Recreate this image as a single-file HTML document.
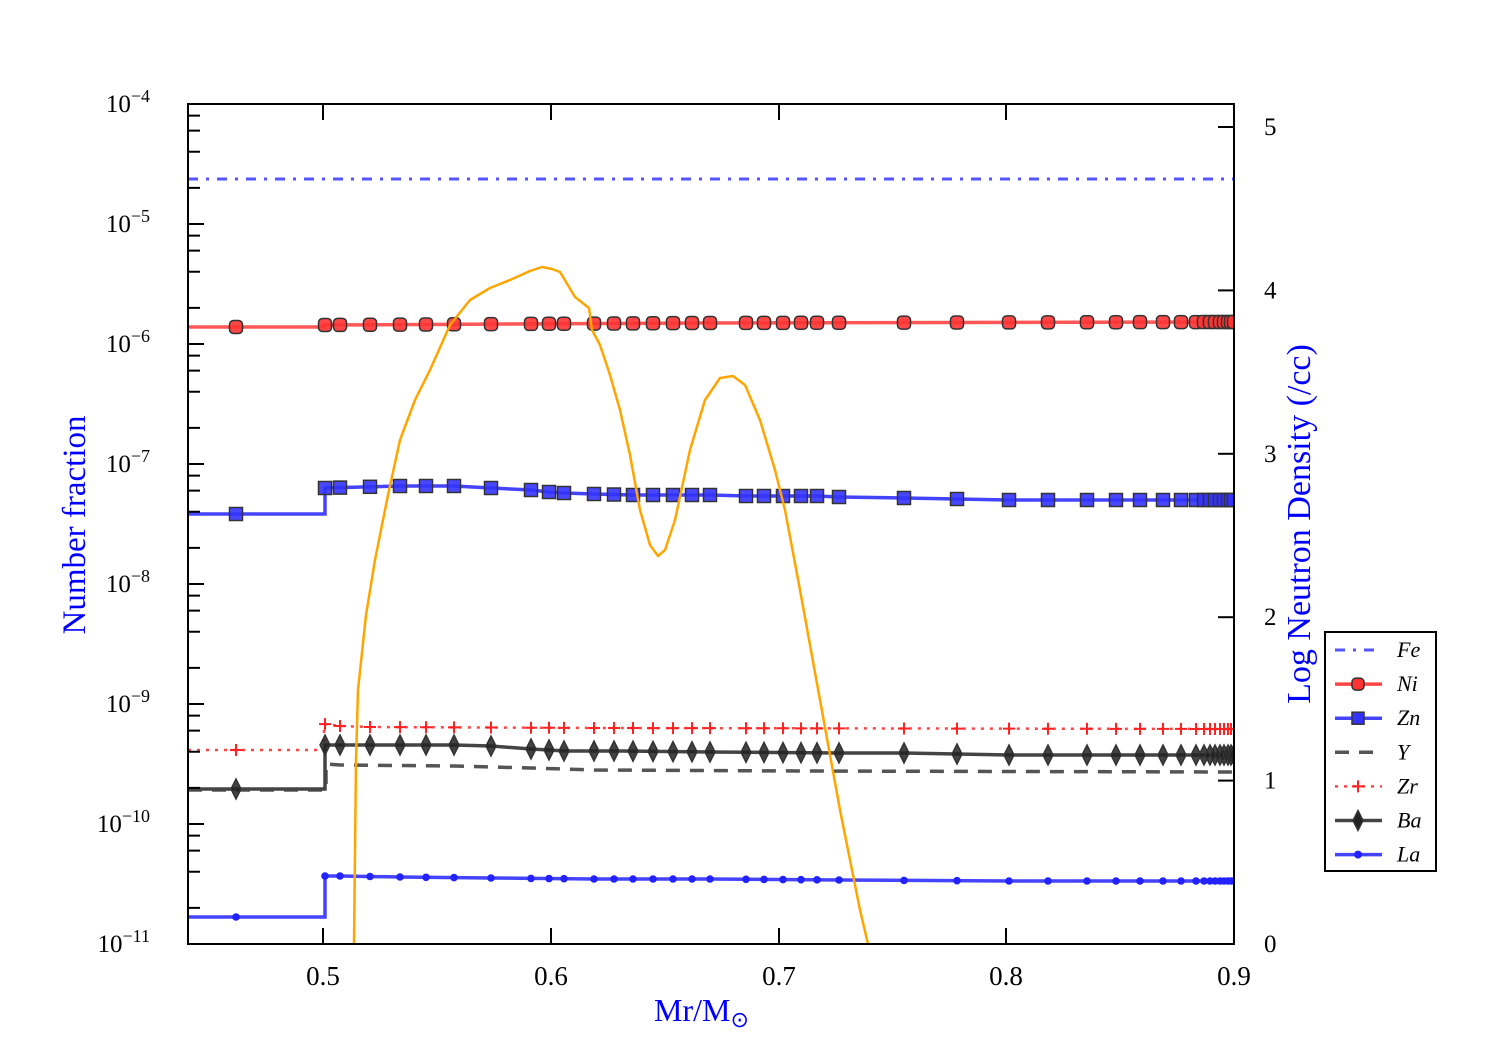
<!DOCTYPE html>
<html><head><meta charset="utf-8"><style>
html,body{margin:0;padding:0;background:#fff;}
svg{display:block;font-family:"Liberation Serif",serif;}
</style></head><body>
<svg id="s" width="1500" height="1050" xmlns="http://www.w3.org/2000/svg">
<rect width="1500" height="1050" fill="#fff"/>
<defs><clipPath id="c"><rect x="188" y="104" width="1046" height="840"/></clipPath></defs>
<g id="plot" clip-path="url(#c)"></g>
<g id="axes" stroke="#000" stroke-width="2" fill="none"></g>
<rect x="188" y="104" width="1046" height="840" fill="none" stroke="#000" stroke-width="2"/>
<g id="lab" font-size="25" fill="#000"></g>
<text x="85" y="525" font-size="33" fill="#0000ff" text-anchor="middle" transform="rotate(-90 85 525)">Number fraction</text>
<text x="1310" y="524" font-size="34" fill="#0000ff" text-anchor="middle" transform="rotate(-90 1310 524)">Log Neutron Density (/cc)</text>
<text x="654" y="1021" font-size="32" fill="#0000ff">Mr/M<tspan font-size="22" dy="6">⊙</tspan></text>
<g id="leg"></g>
</svg>
<script>
const NS="http://www.w3.org/2000/svg";
function el(p,t,a){const e=document.createElementNS(NS,t);for(const k in a)e.setAttribute(k,a[k]);p.appendChild(e);return e;}
const plot=document.getElementById('plot'),axes=document.getElementById('axes'),lab=document.getElementById('lab');
for(let d=0;d<=7;d++){const y=104+120*d;el(axes,'line',{x1:188,y1:y,x2:204,y2:y});
 const t=el(lab,'text',{x:150,y:y+8,'text-anchor':'end'});t.textContent='10';const ts=el(t,'tspan',{dy:-10,'font-size':18});ts.textContent='−'+(4+d);
 if(d<7)for(const m of [2,4,6,8]){const yy=y+120-120*Math.log10(m);el(axes,'line',{x1:188,y1:yy,x2:200,y2:yy});}}
for(let v=0;v<=5;v++){const y=944-163.4*v;el(axes,'line',{x1:1218,y1:y,x2:1234,y2:y});
 const t=el(lab,'text',{x:1264,y:y+8});t.textContent=v;}
[[0.5,323],[0.6,551],[0.7,779],[0.8,1006],[0.9,1234]].forEach(([v,x])=>{el(axes,'line',{x1:x,y1:944,x2:x,y2:928});el(axes,'line',{x1:x,y1:104,x2:x,y2:120});
 const t=el(lab,'text',{x:x,y:985,'text-anchor':'middle','font-size':27});t.textContent=v;});
const X=[236,325,340,370,400,426,454,491,531,549,564,594,614,633,653,673,692,710,746,764,783,801,817,839,904,957,1009,1048,1087,1116,1140,1163,1181,1196,1204,1210,1215,1220,1224,1228,1231,1234];
function interp(pts,x){for(let i=0;i<pts.length-1;i++){if(x<=pts[i+1][0])return pts[i][1]+(pts[i+1][1]-pts[i][1])*(x-pts[i][0])/(pts[i+1][0]-pts[i][0]);}return pts[pts.length-1][1];}
function series(left,stepx,pts,style,mk){
 let d=`M188 ${left} L${stepx} ${left} L${stepx} ${pts[0][1]}`;
 for(const p of pts)d+=` L${p[0]} ${p[1]}`;
 el(plot,'path',Object.assign({d:d,fill:'none'},style));
 if(mk){const ys=X.map(x=>x<stepx?left:interp(pts,x));X.forEach((x,i)=>mk(x,ys[i]));}
}
el(plot,'line',{x1:188,y1:179,x2:1234,y2:179,stroke:'#5555ff','stroke-width':3,'stroke-dasharray':'10,8,3,8'});
series(790,326,[[326,764],[340,765],[454,766],[491,767],[531,768],[594,770],[800,771],[1234,772]],{stroke:'#555','stroke-width':3.5,'stroke-dasharray':'14,10'});
series(750,324,[[324,724],[340,726],[370,727],[600,728],[1234,729]],{stroke:'#ff4444','stroke-width':2.5,'stroke-dasharray':'3,6'},(x,y)=>{el(plot,'path',{d:`M${x-6} ${y}H${x+6}M${x} ${y-6}V${y+6}`,stroke:'#ff2222','stroke-width':2});});
series(327,324,[[324,325],[700,323],[1234,322]],{stroke:'#ff4444','stroke-width':3.5,opacity:0.9},(x,y)=>{el(plot,'rect',{x:x-6.5,y:y-6.5,width:13,height:13,rx:4,fill:'#ff3333',stroke:'#333','stroke-width':1.5,'fill-opacity':0.9});});
series(514,325,[[325,488],[400,486],[454,486],[491,488],[531,490],[549,492],[564,493],[594,494],[633,495],[710,495],[746,496],[817,496],[839,497],[904,498],[957,499],[1009,500],[1234,500]],{stroke:'#4444ff','stroke-width':3.5},(x,y)=>{el(plot,'rect',{x:x-6.5,y:y-6.5,width:13,height:13,fill:'#3333ff',stroke:'#333','stroke-width':1.5,'fill-opacity':0.9});});
series(789,325,[[325,745],[454,745],[491,746],[531,749],[549,750],[564,751],[620,751],[710,752],[839,753],[904,753],[1009,755],[1234,755]],{stroke:'#444','stroke-width':3.5},(x,y)=>{el(plot,'path',{d:`M${x} ${y-10}L${x+5} ${y}L${x} ${y+10}L${x-5} ${y}Z`,fill:'#222',stroke:'#333','stroke-width':1.5,'fill-opacity':0.85});});
series(917,325,[[325,876],[340,876],[400,877],[491,878],[594,879],[710,879],[839,880],[1009,881],[1234,881]],{stroke:'#4444ff','stroke-width':3.5},(x,y)=>{el(plot,'circle',{cx:x,cy:y,r:3.8,fill:'#2222ff'});});
const O=[[354,944],[356,760],[358,690],[366,615],[375,560],[388,495],[400,440],[415,400],[430,370],[450,325],[470,300],[490,288],[510,280],[530,271],[542,267],[552,269],[560,272],[575,297],[589,308],[590,315],[592,330],[600,345],[610,375],[620,410],[630,455],[640,510],[650,545],[658,556],[665,550],[675,520],[690,450],[705,400],[720,378],[733,376],[745,385],[760,420],[775,470],[785,510],[800,590],[820,700],[840,810],[860,910],[868,944]];
el(plot,'path',{d:'M'+O.map(p=>p.join(',')).join(' L'),fill:'none',stroke:'#ffa500','stroke-width':2.5,'stroke-linejoin':'round'});
const L=document.getElementById('leg');
el(L,'rect',{x:1325,y:632,width:111,height:239,fill:'#fff',stroke:'#000','stroke-width':2});
const names=['Fe','Ni','Zn','Y','Zr','Ba','La'];
names.forEach((n,i)=>{const y=650+34.1*i,x1=1335,x2=1382,xm=1358;
 if(i==0)el(L,'line',{x1,y1:y,x2,y2:y,stroke:'#5555ff','stroke-width':3,'stroke-dasharray':'10,8,3,8'});
 if(i==1){el(L,'line',{x1,y1:y,x2,y2:y,stroke:'#ff4444','stroke-width':3.5});el(L,'rect',{x:xm-6,y:y-6,width:12,height:12,rx:4,fill:'#ff3333',stroke:'#333','stroke-width':1.5});}
 if(i==2){el(L,'line',{x1,y1:y,x2,y2:y,stroke:'#4444ff','stroke-width':3.5});el(L,'rect',{x:xm-6,y:y-6,width:12,height:12,fill:'#3333ff',stroke:'#333','stroke-width':1.5});}
 if(i==3)el(L,'line',{x1,y1:y,x2,y2:y,stroke:'#555','stroke-width':3.5,'stroke-dasharray':'14,10'});
 if(i==4){el(L,'line',{x1,y1:y,x2,y2:y,stroke:'#ff4444','stroke-width':2.5,'stroke-dasharray':'3,6'});el(L,'path',{d:`M${xm-6} ${y}H${xm+6}M${xm} ${y-6}V${y+6}`,stroke:'#ff2222','stroke-width':2});}
 if(i==5){el(L,'line',{x1,y1:y,x2,y2:y,stroke:'#444','stroke-width':3.5});el(L,'path',{d:`M${xm} ${y-10}L${xm+5} ${y}L${xm} ${y+10}L${xm-5} ${y}Z`,fill:'#222',stroke:'#333','stroke-width':1.5});}
 if(i==6){el(L,'line',{x1,y1:y,x2,y2:y,stroke:'#4444ff','stroke-width':3.5});el(L,'circle',{cx:xm,cy:y,r:4,fill:'#2222ff'});}
 const t=el(L,'text',{x:1397,y:y+7,'font-size':22,'font-style':'italic'});t.textContent=n;});
</script>
</body></html>
